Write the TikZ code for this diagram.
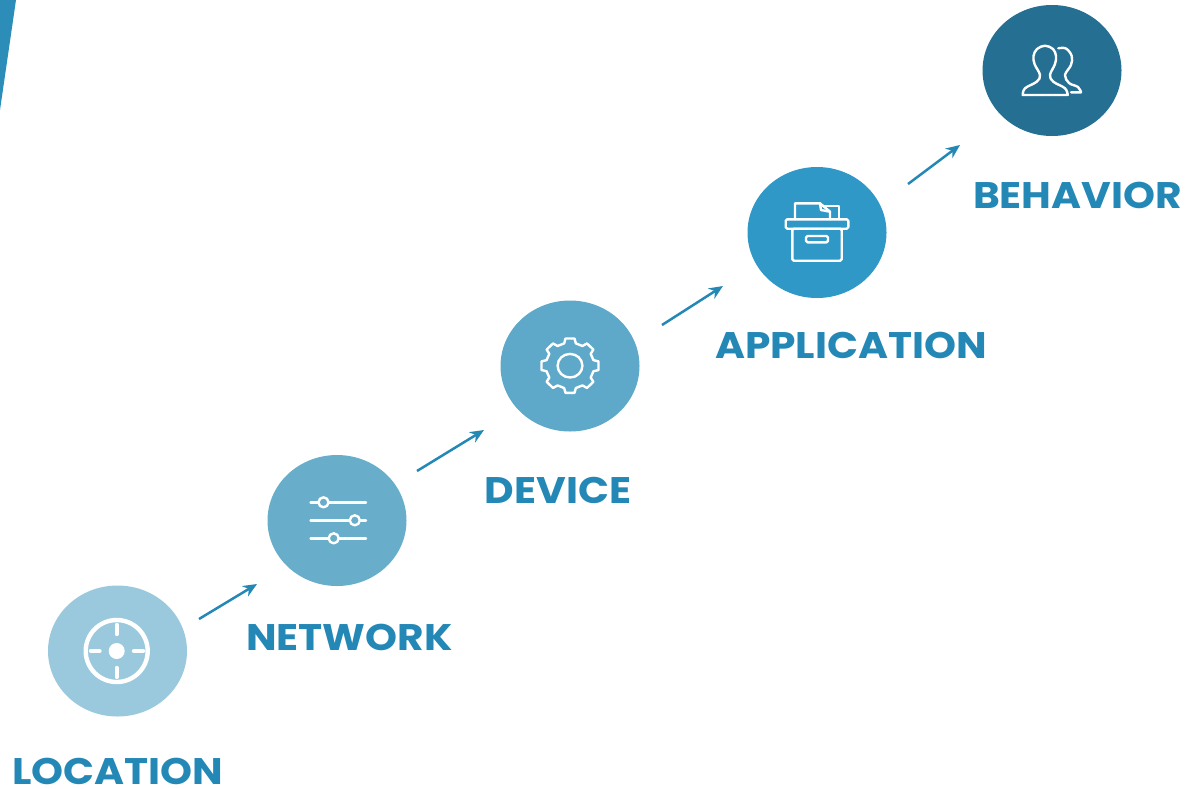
\documentclass[tikz,border=0pt]{standalone}
\usepackage{fontspec}
\setmainfont{Poppins}[BoldFont={Poppins Bold},BoldFeatures={FakeStretch=1.1}]
\usetikzlibrary{shapes.geometric}
\usetikzlibrary{arrows.meta}
\definecolor{corner}{HTML}{2B8DB8}
\definecolor{labelblue}{HTML}{2488B6}
\definecolor{stepa}{HTML}{9AC9DE}
\definecolor{stepb}{HTML}{68AECB}
\definecolor{stepc}{HTML}{5EA9C9}
\definecolor{stepd}{HTML}{2F98C6}
\definecolor{stepe}{HTML}{256F92}
\tikzset{
  stepdisc/.style={ellipse, inner sep=0pt, minimum width=139pt, minimum height=131pt},
  steplabel/.style={text=labelblue, font=\fontsize{37}{37}\selectfont\bfseries, inner sep=0pt},
  nextarrow/.style={draw=labelblue, line width=2.5pt, -{Stealth[length=14pt,width=12pt]}},
  icon/.style={draw=white, line width=2.4pt, line join=round, line cap=round},
  boldicon/.style={icon, line width=4.4pt},
}
\begin{document}
\begin{tikzpicture}[x=1pt,y=-1pt]
  \useasboundingbox (0,0) rectangle (1201,788);
  \fill[corner] (0,0) -- (16,0) -- (0,110) -- cycle;

  \node[stepdisc, fill=stepa] (loc) at (117.5,651){};
  \node[stepdisc, fill=stepb] (net) at (337,520.5){};
  \node[stepdisc, fill=stepc] (dev) at (570,366){};
  \node[stepdisc, fill=stepd] (app) at (817,232.5){};
  \node[stepdisc, fill=stepe] (beh) at (1052,70.5){};

  \node[steplabel] (locname) at (118,771.5){LOCATION};
  \node[steplabel] (netname) at (349.5,637.5){NETWORK};
  \node[steplabel] (devname) at (558,490.5){DEVICE};
  \node[steplabel] (appname) at (851,345){APPLICATION};
  \node[steplabel] (behname) at (1077.5,195){BEHAVIOR};

  \coordinate (arr0) at (199,619);
  \coordinate (arr1) at (257,584);
  \coordinate (arr2) at (417,471);
  \coordinate (arr3) at (484,430);
  \coordinate (arr4) at (662,325);
  \coordinate (arr5) at (723,286);
  \coordinate (arr6) at (908,184);
  \coordinate (arr7) at (960,145);
  \draw[nextarrow] (arr0) -- (arr1);
  \draw[nextarrow] (arr2) -- (arr3);
  \draw[nextarrow] (arr4) -- (arr5);
  \draw[nextarrow] (arr6) -- (arr7);

  % target
  \draw[boldicon] (116.7,651) circle (31);
  \fill[white] (116.7,651) circle (8);
  \draw[boldicon] (116.7,625) -- (116.7,634);
  \draw[boldicon] (116.7,668) -- (116.7,677);
  \draw[boldicon] (91,651) -- (99.5,651);
  \draw[boldicon] (134,651) -- (143,651);

  % sliders
  \draw[icon] (310.5,502.3) -- (366,502.3);
  \draw[icon] (310.5,520.3) -- (366,520.3);
  \draw[icon] (310.5,538.3) -- (366,538.3);
  \draw[icon, fill=stepb] (323.5,502.3) circle (5);
  \draw[icon, fill=stepb] (354.8,520.3) circle (5);
  \draw[icon, fill=stepb] (333.7,538.3) circle (5);

  % gear
  \begin{scope}[shift={(570,365.7)}, xscale=1.05]
    \draw[icon] (-14:23) \foreach \a in {0,45,...,315}{ -- (\a-14:23) -- (\a-9:27.5) -- (\a+9:27.5) -- (\a+14:23)} -- cycle;
    \draw[icon] (0,0) circle (11.8);
  \end{scope}

  % archive box
  \draw[icon, rounded corners=1.5pt] (785.7,219.3) rectangle (848.3,228.7);
  \draw[icon, rounded corners=1.5pt] (792.3,228.7) rectangle (841.7,260.7);
  \draw[icon, rounded corners=1.5pt] (806,236) rectangle (828,242.3);
  \draw[icon] (795,219.3) -- (795,203.3) -- (820,203.3) -- (830,211.7) -- (830,219.3);
  \draw[icon] (820,203.3) -- (821,210) -- (830,211.7);
  \draw[icon] (823.3,206) -- (839,206) -- (839,219.3);

  % people
  \draw[icon] plot[smooth, tension=.6] coordinates {(1022.7,95) (1025,88.3) (1036.7,81.7) (1040,75) (1034.5,64) (1033.5,56) (1037,49) (1045,45.7) (1053,49) (1056,56) (1055,64) (1050,75) (1053.3,81.7) (1065,88.3) (1067.7,95)} -- cycle;
  \draw[icon] plot[smooth, tension=.6] coordinates {(1058.3,48.3) (1066,48.5) (1071.7,56) (1071,65) (1065,75) (1069,83) (1078,87) (1081,92.3)} -- (1071,92.3);
\end{tikzpicture}
\end{document}
